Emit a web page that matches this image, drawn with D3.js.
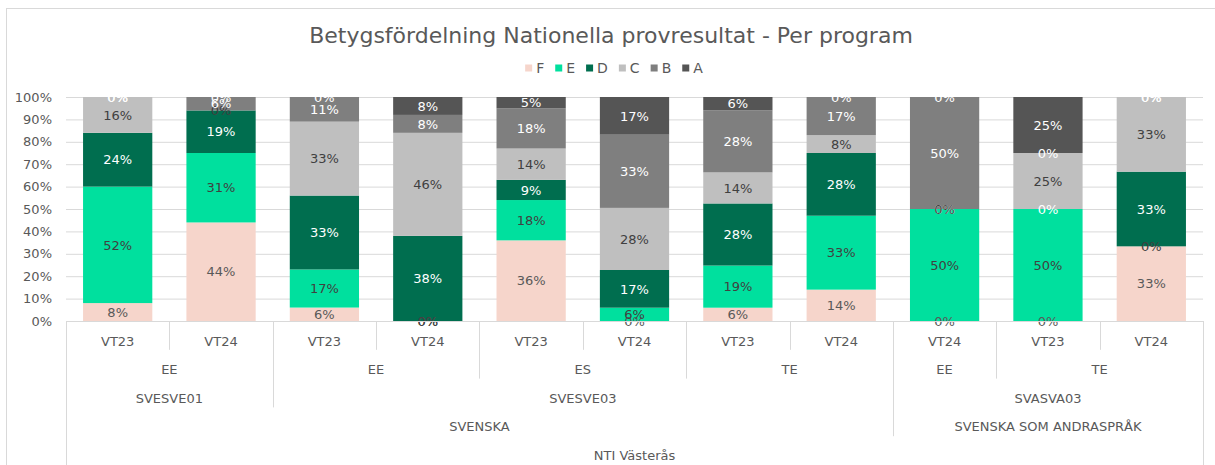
<!DOCTYPE html>
<html>
<head>
<meta charset="utf-8">
<script src="https://cdn.jsdelivr.net/npm/d3@7"></script>
<style>
    body { margin: 0; background: #fff; }
    svg { font-family: 'DejaVu Sans', sans-serif; }
</style>
</head>
<body>
<svg id="chart" width="1215" height="465"></svg>
<script>
// category levels, one entry per bar
const periods  = ['VT23', 'VT24', 'VT23', 'VT24', 'VT23', 'VT24', 'VT23', 'VT24', 'VT24', 'VT23', 'VT24'];
const programs = ['EE', 'EE', 'EE', 'EE', 'ES', 'ES', 'TE', 'TE', 'EE', 'TE', 'TE'];
const courses  = ['SVESVE01', 'SVESVE01', 'SVESVE03', 'SVESVE03', 'SVESVE03', 'SVESVE03', 'SVESVE03', 'SVESVE03', 'SVASVA03', 'SVASVA03', 'SVASVA03'];
const subjects = ['SVENSKA', 'SVENSKA', 'SVENSKA', 'SVENSKA', 'SVENSKA', 'SVENSKA', 'SVENSKA', 'SVENSKA',
                  'SVENSKA SOM ANDRASPRÅK', 'SVENSKA SOM ANDRASPRÅK', 'SVENSKA SOM ANDRASPRÅK'];
const schools  = Array(11).fill('NTI Västerås');

// grade shares in percent
const grades = ['F', 'E', 'D', 'C', 'B', 'A'];
const F = [8, 44, 6, 0, 36, 0, 6, 14, 0, 0, 33];
const E = [52, 31, 17, 0, 18, 6, 19, 33, 50, 50, 0];
const D = [24, 19, 33, 38, 9, 17, 28, 28, 0, 0, 33];
const C = [16, 0, 33, 46, 14, 28, 14, 8, 0, 25, 33];
const B = [0, 6, 11, 8, 18, 33, 28, 17, 50, 0, 0];
const A = [0, 0, 0, 8, 5, 17, 6, 0, 0, 25, 0];
const yTicks = [0, 0.1, 0.2, 0.3, 0.4, 0.5, 0.6, 0.7, 0.8, 0.9, 1];

const colors = {
    F: '#F6D5CB',
    E: '#00E09E',
    D: '#006E4F',
    C: '#BFBFBF',
    B: '#7F7F7F',
    A: '#555555'
};
const labelColors = { F: '#595959', E: '#404040', D: '#fff', C: '#404040', B: '#fff', A: '#fff' };

const rows = periods.map((p, i) => ({ i, F: F[i], E: E[i], D: D[i], C: C[i], B: B[i], A: A[i] }));
const levels = [periods, programs, courses, subjects, schools];

const svg = d3.select('#chart');
const plot = { left: 66, right: 1203, top: 97, bottom: 321 };
const grey = '#595959';
const lineCol = '#D9D9D9';

// chart frame
svg.append('rect')
    .attr('x', 6.5).attr('y', 8.5)
    .attr('width', 1300).attr('height', 600)
    .attr('fill', 'none').attr('stroke', lineCol);

svg.append('text')
    .attr('x', 611).attr('y', 35)
    .attr('dy', '0.35em')
    .attr('text-anchor', 'middle')
    .style('font-size', '22px')
    .style('fill', grey)
    .text('Betygsfördelning Nationella provresultat - Per program');

const x = d3.scaleBand()
    .domain(rows.map(d => d.i))
    .range([plot.left, plot.right])
    .paddingInner(0.33)
    .paddingOuter(0.165);

const y = d3.scaleLinear().domain([0, 1]).range([plot.bottom, plot.top]);

// gridlines + y labels
const yAxis = d3.axisLeft(y)
    .tickValues(yTicks)
    .tickFormat(d3.format('.0%'))
    .tickSize(-(plot.right - plot.left))
    .tickPadding(14);

svg.append('g')
    .attr('transform', `translate(${plot.left},0)`)
    .call(yAxis)
    .call(g => g.select('.domain').remove())
    .call(g => g.selectAll('line').attr('stroke', lineCol))
    .call(g => g.selectAll('text').style('font-size', '13px').style('fill', grey).style('font-family', 'DejaVu Sans'));

const stack = d3.stack().keys(grades).offset(d3.stackOffsetExpand);
const series = stack(rows);

const layer = svg.append('g').selectAll('g')
    .data(series)
    .enter().append('g')
    .attr('fill', s => colors[s.key]);

layer.selectAll('rect')
    .data(s => s)
    .enter().append('rect')
    .attr('x', d => x(d.data.i))
    .attr('width', x.bandwidth())
    .attr('y', d => y(d[1]))
    .attr('height', d => y(d[0]) - y(d[1]));

// data labels, zeros included
svg.append('g').selectAll('g')
    .data(series)
    .enter().append('g')
    .style('fill', s => labelColors[s.key])
    .style('font-size', '13px')
    .attr('text-anchor', 'middle')
    .each(function (s) {
        d3.select(this).selectAll('text')
            .data(s)
            .enter().append('text')
            .attr('x', d => x(d.data.i) + x.bandwidth() / 2)
            .attr('y', d => y((d[0] + d[1]) / 2))
            .attr('dy', '0.36em')
            .text(d => d.data[s.key] + '%');
    });

// multi-level category axis
const axisTop = plot.bottom;
const rowH = 28.8;
const step = x.step();
const cat = svg.append('g');

cat.append('line')
    .attr('x1', plot.left).attr('x2', plot.right)
    .attr('y1', axisTop + 0.5).attr('y2', axisTop + 0.5)
    .attr('stroke', lineCol);

// boundaries: depth = highest level where neighbouring bars differ
const edgeX = k => Math.round(plot.left + k * step) + 0.5;
for (let k = 0; k <= rows.length; k++) {
    let depth = levels.length;
    if (k > 0 && k < rows.length) {
        depth = 0;
        levels.forEach((lv, li) => {
            const key = a => levels.slice(li).map(l => l[a]).join('|');
            if (key(k - 1) !== key(k)) depth = li + 1;
        });
    }
    cat.append('line')
        .attr('x1', edgeX(k)).attr('x2', edgeX(k))
        .attr('y1', axisTop)
        .attr('y2', depth === levels.length ? 470 : axisTop + depth * rowH)
        .attr('stroke', lineCol);
}

levels.forEach((lv, li) => {
    const groups = [];
    lv.forEach((v, i) => {
        const key = levels.slice(li).map(l => l[i]).join('|');
        const last = groups[groups.length - 1];
        if (last && last.key === key) last.end = i;
        else groups.push({ key, label: v, start: i, end: i });
    });
    cat.selectAll(null)
        .data(groups)
        .enter().append('text')
        .attr('x', g => plot.left + (g.start + g.end + 1) / 2 * step)
        .attr('y', axisTop + 20 + li * 28.6)
        .attr('dy', '0.35em')
        .attr('text-anchor', 'middle')
        .style('font-size', '13px')
        .style('fill', grey)
        .text(g => g.label);
});

// legend
const legend = svg.append('g');
let lx = 0;
grades.forEach(k => {
    const item = legend.append('g').attr('transform', `translate(${lx},0)`);
    item.append('rect')
        .attr('x', 0).attr('y', -3.5)
        .attr('width', 7).attr('height', 7)
        .attr('fill', colors[k]);
    const t = item.append('text')
        .attr('x', 11).attr('dy', '0.35em')
        .style('font-size', '14px')
        .style('fill', grey)
        .text(k);
    lx += 11 + t.node().getComputedTextLength() + 11;
});
lx -= 11;
legend.attr('transform', `translate(${614 - lx / 2},68)`);
</script>
</body>
</html>
